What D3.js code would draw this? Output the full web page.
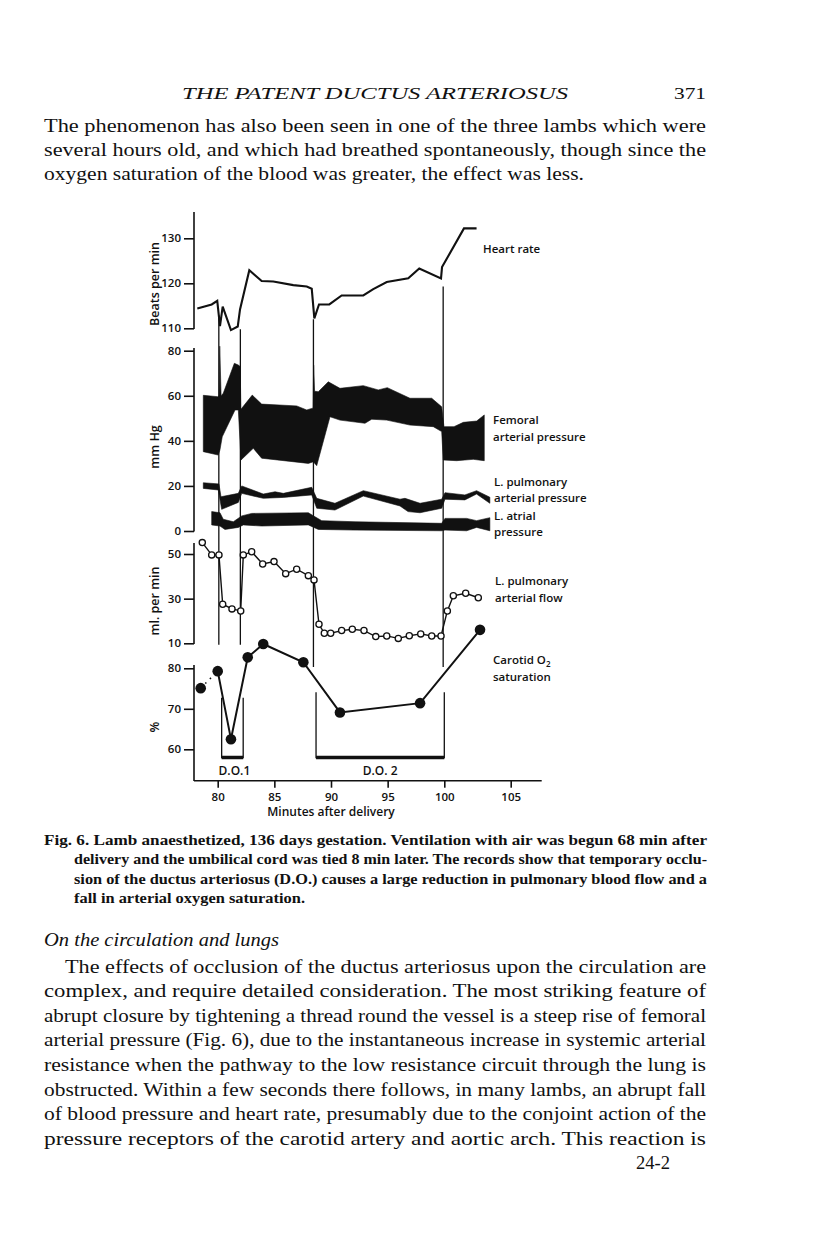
<!DOCTYPE html>
<html>
<head>
<meta charset="utf-8">
<script src="https://cdn.jsdelivr.net/npm/d3@7"></script>
<style>
  body { margin: 0; background: #fff; }
  svg { display: block; }
  .serif { font-family: "Liberation Serif", "DejaVu Serif", serif; fill: #111; }
  .sans { font-family: "Open Sans", "Lato", sans-serif; fill: #111; font-weight: 600; }
  .axis text { font-family: "Open Sans", "Lato", sans-serif; font-size: 11.5px; font-weight: 600; fill: #111; }
  .axis line { stroke: #111; stroke-width: 1.6; }
</style>
</head>
<body>
<svg id="page" width="816" height="1233"></svg>
<script>
"use strict";

// ---- page text ----
const headerTitle = "THE PATENT DUCTUS ARTERIOSUS";
const pageNumber = "371";
const introLines = [
  "The phenomenon has also been seen in one of the three lambs which were",
  "several hours old, and which had breathed spontaneously, though since the",
  "oxygen saturation of the blood was greater, the effect was less."
];
const captionLines = [
  "Fig. 6. Lamb anaesthetized, 136 days gestation. Ventilation with air was begun 68 min after",
  "delivery and the umbilical cord was tied 8 min later. The records show that temporary occlu-",
  "sion of the ductus arteriosus (D.O.) causes a large reduction in pulmonary blood flow and a",
  "fall in arterial oxygen saturation."
];
const sectionTitle = "On the circulation and lungs";
const bodyLines = [
  "The effects of occlusion of the ductus arteriosus upon the circulation are",
  "complex, and require detailed consideration. The most striking feature of",
  "abrupt closure by tightening a thread round the vessel is a steep rise of femoral",
  "arterial pressure (Fig. 6), due to the instantaneous increase in systemic arterial",
  "resistance when the pathway to the low resistance circuit through the lung is",
  "obstructed. Within a few seconds there follows, in many lambs, an abrupt fall",
  "of blood pressure and heart rate, presumably due to the conjoint action of the",
  "pressure receptors of the carotid artery and aortic arch. This reaction is"
];
const footerText = "24-2";

// ---- chart data : [minutes after delivery, value] ----
const minuteTicks = [80, 85, 90, 95, 100, 105];
const heartTicks = [110, 120, 130];
const pressureTicks = [0, 20, 40, 60, 80];
const flowTicks = [10, 30, 50];
const satTicks = [60, 70, 80];

const heartRate = [[78.2,114.4],[79.47,115.3],[79.96,116.1],[80.2,110.5],[80.44,114.8],[81.17,109.6],
  [81.77,110.4],[81.97,114.2],[82.79,122.9],[83.88,120.5],[84.91,120.4],[86.67,119.6],[87.86,119.3],
  [88.3,118.8],[88.53,112.2],[88.94,115.3],[89.85,115.3],[90.94,117.3],[92.85,117.3],[93.73,118.7],
  [94.92,120.3],[96.82,121.1],[97.79,123.3],[99.71,121.1],[99.8,123.6],[101.48,132.2],[102.43,132.2]];

const femoralHigh = [[78.73,60.2],[80.0,59.6],[80.12,60],[80.18,82],[80.3,60],[80.49,61.1],[81.47,74.4],
  [81.82,73.6],[81.98,73],[82.05,54],[83.05,60.3],[83.88,56.3],[86.97,55.5],[87.86,53.7],[88.3,54.4],
  [88.42,54.5],[88.47,73.6],[88.55,62],[88.88,61.8],[89.76,66.2],[90.79,63.3],[92.85,64.5],[94.17,62.6],
  [94.97,63.6],[96.97,58.9],[98.89,58.9],[99.77,55.1],[99.97,46.3],[100.73,46.3],[101.43,48.2],
  [102.44,48.8],[103.01,51.5]];
const femoralLow = [[78.73,35.2],[80.05,33.7],[80.2,36],[80.4,41.8],[81.53,53.7],[81.82,53.7],[82.06,31.5],
  [83.14,36.7],[83.88,32.3],[88.0,30.0],[88.44,30.7],[88.74,29.0],[89.91,50.7],[90.79,49.2],[93.0,47.8],
  [93.59,49.6],[94.92,49.2],[96.97,47.0],[99.03,46.3],[99.77,44.1],[99.91,31.5],[100.93,31.2],
  [102.18,31.8],[103.01,31.2]];

const pulmHigh = [[78.73,21.4],[80.11,20.9],[80.29,15.2],[81.82,16.7],[82.12,20.0],[84.02,16.4],
  [85.06,17.4],[85.79,16.7],[88.3,19.4],[88.74,14.5],[90.35,12.3],[92.85,17.9],[96.09,14.1],
  [96.53,14.5],[97.86,12.3],[99.77,14.1],[100.05,17.0],[101.55,16.0],[102.43,17.9],[103.43,15.0]];
const pulmLow = [[78.73,18.9],[80.05,18.2],[80.35,9.6],[81.82,12.7],[82.12,16.7],[84.02,14.5],
  [85.79,14.9],[88.3,16.0],[88.74,10.1],[90.35,9.3],[92.85,15.5],[96.09,11.1],[96.8,8.6],[97.86,8.1],
  [99.77,10.1],[100.05,14.1],[101.55,13.8],[102.43,16.4],[103.43,12.3]];

const atrialHigh = [[79.47,8.6],[80.2,8.1],[80.49,5.2],[81.38,4.1],[82.12,6.7],[83.0,7.8],[88.0,8.1],
  [88.59,6.3],[89.18,4.6],[92.12,4.1],[99.77,3.4],[100.05,5.6],[101.68,5.6],[102.43,4.6],[103.43,5.9]];
const atrialLow = [[79.47,2.7],[80.2,2.2],[80.64,0.7],[81.82,1.6],[82.26,2.7],[83.88,2.2],[88.0,2.7],
  [88.88,0.7],[92.12,0.4],[99.77,0.1],[100.05,0.4],[101.68,0.1],[102.43,1.6],[103.43,0.1]];

const pulmFlow = [[78.64,55.1],[79.47,49.6],[80.11,49.6],[80.44,27.5],[81.26,25.4],[82.03,24.5],
  [82.26,49.6],[83.0,51.0],[83.97,45.5],[84.97,46.6],[86.0,41.2],[86.97,43.2],[88.0,40.3],[88.5,38.4],
  [88.94,18.5],[89.41,14.5],[89.97,14.5],[90.94,15.7],[91.88,16.3],[92.91,15.7],[93.95,13.0],
  [94.92,13.3],[95.94,12.2],[96.91,13.4],[97.92,14.2],[98.89,13.3],[99.71,13.3],[100.23,24.5],
  [100.68,31.3],[101.61,32.4],[102.56,30.4]];

const carotidSat = [[78.5,75.1],[80.0,79.3],[81.17,62.5],[82.65,82.7],[84.02,86.0],[87.56,81.5],
  [90.79,69.1],[97.86,71.4],[102.69,89.5]];

// ductus occlusions
const occlusionMarks = [80.1, 82.0, 88.45, 99.9];
const occlusionNames = ["D.O.1", "D.O. 2"];
const occlusionStart = [80.35, 88.68];
const occlusionEnd = [82.25, 100.0];

const svg = d3.select("#page");

// ---------- page text ----------
function textLine(str, x, y, size, width, cls, extra) {
  const t = svg.append("text").attr("class", cls).attr("x", x).attr("y", y)
    .style("font-size", size + "px").text(str);
  if (width) t.attr("textLength", width).attr("lengthAdjust", "spacingAndGlyphs");
  if (extra) extra(t);
  return t;
}

const left = 44, right = 706;
textLine(headerTitle, 182, 99, 17.5, 386, "serif", t => t.style("font-style", "italic"));
textLine(pageNumber, 674, 99, 17.5, 32, "serif");

introLines.forEach((s, i) => {
  const last = i === introLines.length - 1;
  textLine(s, left, 132 + i * 24, 19.5, last ? 540 : right - left, "serif");
});

captionLines.forEach((s, i) => {
  const last = i === captionLines.length - 1;
  const x0 = i === 0 ? left : left + 30;
  textLine(s, x0, 845 + i * 19.4, 14.5, last ? 231 : 707 - x0, "serif", t => t.style("font-weight", "bold"));
});

textLine(sectionTitle, left, 946, 19.5, 235, "serif", t => t.style("font-style", "italic"));
bodyLines.forEach((s, i) => {
  const x0 = i === 0 ? left + 21 : left;
  textLine(s, x0, 972.5 + i * 24.6, 19.5, right - x0, "serif");
});
textLine(footerText, 636, 1169, 19, 34, "serif");

// ---------- chart ----------
const x = d3.scaleLinear().domain([80, 100, 105]).range([217.7, 444.3, 510.7]);
const yHeart = d3.scaleLinear().domain([110, 130]).range([328.3, 238.3]);
const yPress = d3.scaleLinear().domain([0, 80]).range([531, 350.7]);
const yFlow = d3.scaleLinear().domain([10, 50]).range([643.3, 554]);
const ySat = d3.scaleLinear().domain([60, 80]).range([749.3, 668.3]);
const spineX = 194;
const chart = svg.append("g");

// y axes, one per record, sharing the same spine
function leftAxis(scale, ticks, top, bottom) {
  const g = chart.append("g").attr("class", "axis")
    .attr("transform", "translate(" + spineX + ",0)")
    .call(d3.axisLeft(scale).tickValues(ticks).tickSize(10).tickPadding(3).tickFormat(d3.format("d")));
  g.select(".domain").remove();
  g.append("line").attr("x1", 0).attr("x2", 0).attr("y1", top).attr("y2", bottom)
    .attr("stroke", "#111").attr("stroke-width", 1.8);
}
leftAxis(yHeart, heartTicks, 212, 329);
leftAxis(yPress, pressureTicks, 348, 531.5);
leftAxis(yFlow, flowTicks, 543, 644);
leftAxis(ySat, satTicks, 665, 781);

// x axis
const xAxisY = 780.7;
const gx = chart.append("g").attr("class", "axis")
  .attr("transform", "translate(0," + xAxisY + ")")
  .call(d3.axisBottom(x).tickValues(minuteTicks).tickSize(7).tickPadding(5));
gx.select(".domain").remove();
gx.append("line").attr("x1", spineX).attr("x2", 541.7).attr("y1", 0).attr("y2", 0)
  .attr("stroke", "#111").attr("stroke-width", 1.8);
chart.append("text").attr("class", "sans").attr("x", 331).attr("y", 816)
  .attr("text-anchor", "middle").style("font-size", "12px").text("Minutes after delivery");

// axis titles
[["Beats per min", 284], ["mm Hg", 447], ["ml. per min", 601], ["%", 727]].forEach(([s, cy]) => {
  chart.append("text").attr("class", "sans")
    .attr("transform", "translate(159," + cy + ") rotate(-90)")
    .attr("text-anchor", "middle").style("font-size", "12.5px").text(s);
});

// occlusion marker lines
const markTop = [yHeart(112.9), yHeart(109.8), yHeart(112), yHeart(119.3)];
const markBottom = [yFlow(9.3), yFlow(9.3), ySat(80.3), ySat(80.3)];
chart.selectAll(".mark").data(occlusionMarks).enter().append("line")
  .attr("class", "mark")
  .attr("x1", d => x(d)).attr("x2", d => x(d))
  .attr("y1", (d, i) => markTop[i]).attr("y2", (d, i) => markBottom[i])
  .attr("stroke", "#111").attr("stroke-width", 1.3);

// pressure bands
const line = scale => d3.line().x(d => x(d[0])).y(d => scale(d[1]));
function band(high, low) {
  chart.append("path")
    .attr("d", line(yPress)(high.concat(low.slice().reverse())) + "Z")
    .attr("fill", "#111").attr("stroke", "#111").attr("stroke-width", 0.6)
    .attr("stroke-linejoin", "round");
}
band(femoralHigh, femoralLow);
band(pulmHigh, pulmLow);
band(atrialHigh, atrialLow);

// heart rate
chart.append("path").attr("d", line(yHeart)(heartRate))
  .attr("fill", "none").attr("stroke", "#111").attr("stroke-width", 2.1)
  .attr("stroke-linejoin", "miter");

// pulmonary flow
chart.append("path").attr("d", line(yFlow)(pulmFlow))
  .attr("fill", "none").attr("stroke", "#111").attr("stroke-width", 1.4);
chart.selectAll(".flow").data(pulmFlow).enter().append("circle")
  .attr("class", "flow")
  .attr("cx", d => x(d[0])).attr("cy", d => yFlow(d[1])).attr("r", 3.1)
  .attr("fill", "#fff").attr("stroke", "#111").attr("stroke-width", 1.3);

// carotid saturation (first link dotted)
chart.append("path").attr("d", line(ySat)(carotidSat.slice(0, 2)))
  .attr("fill", "none").attr("stroke", "#111").attr("stroke-width", 1.6)
  .attr("stroke-dasharray", "1.5,5");
chart.append("path").attr("d", line(ySat)(carotidSat.slice(1)))
  .attr("fill", "none").attr("stroke", "#111").attr("stroke-width", 2);
chart.selectAll(".sat").data(carotidSat).enter().append("circle")
  .attr("class", "sat")
  .attr("cx", d => x(d[0])).attr("cy", d => ySat(d[1])).attr("r", 5.3)
  .attr("fill", "#111");

// occlusion brackets
const bracketTop = [ySat(72.7), ySat(74.1)];
const bracketBottom = 757.5;
occlusionNames.forEach((name, i) => {
  const x0 = x(occlusionStart[i]), x1 = x(occlusionEnd[i]);
  chart.append("path")
    .attr("d", "M" + x0 + "," + bracketTop[i] + "V" + bracketBottom + "H" + x1 + "V" + bracketTop[i])
    .attr("fill", "none").attr("stroke", "#111").attr("stroke-width", 1.3);
  chart.append("line").attr("x1", x0).attr("x2", x1)
    .attr("y1", bracketBottom).attr("y2", bracketBottom)
    .attr("stroke", "#111").attr("stroke-width", 3.5);
  chart.append("text").attr("class", "sans").attr("x", (x0 + x1) / 2 + (i === 0 ? 2 : 0))
    .attr("y", 774.5).attr("text-anchor", "middle").style("font-size", "12px").text(name);
});

// record labels
const labels = [
  ["Heart rate", 483, 253],
  ["Femoral", 493, 424], ["arterial pressure", 493, 441],
  ["L. pulmonary", 494, 485.5], ["arterial pressure", 494, 502],
  ["L. atrial", 494, 519.5], ["pressure", 494, 536],
  ["L. pulmonary", 495, 584.5], ["arterial flow", 495, 601.5],
  ["Carotid O", 493, 664], ["saturation", 493, 681]
];
labels.forEach(([s, lx, ly]) => {
  const t = chart.append("text").attr("class", "sans").attr("x", lx).attr("y", ly)
    .style("font-size", "11.5px").text(s);
  if (s === "Carotid O") t.append("tspan").attr("dy", 3).style("font-size", "8px").text("2");
});
</script>
</body>
</html>
